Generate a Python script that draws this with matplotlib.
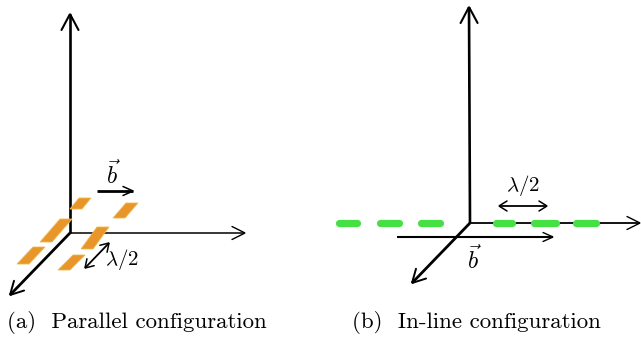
import matplotlib
matplotlib.use("Agg")
import numpy as np
import matplotlib.pyplot as plt
from matplotlib.patches import Polygon

plt.rcParams['mathtext.fontset'] = 'cm'

# coordinates in picture pixels (x to the right, y downward)
# (a) parallel configuration
a_origin = (70, 233)
a_axis_ends = [(70, 14), (245, 233), (10, 295)]
a_axis_lw = [1.9, 1.1, 2.0]
# orange dipoles: (top centre x, top y, bottom centre x, bottom y)
a_dipoles = [
    (85, 198, 76, 209), (66, 219, 46, 242), (39, 247, 23, 264),
    (132, 203, 119, 218), (103, 227, 87, 249), (79, 255, 64, 270),
]
a_b_arrow = [(97, 191), (133, 191)]
a_b_label = (113, 175)
a_lambda_arrow = [(85, 268), (109, 243)]
a_lambda_label = (122, 259)

# (b) in-line configuration
b_origin = (470, 223)
b_axis_ends = [(469, 7), (640, 223), (412, 283)]
b_axis_lw = [1.9, 1.3, 2.0]
# green dipoles along the x axis: (x start, x end)
b_dipoles = [(336, 360), (377, 402), (418, 443), (493, 515), (531, 559), (573, 599)]
b_b_arrow = [(397, 237), (553, 237)]
b_b_label = (474, 260)
b_lambda_arrow = [(499, 206), (547, 206)]
b_lambda_label = (523, 186)

captions = ["(a)  Parallel configuration", "(b)  In-line configuration"]
caption_x = [7, 352]

orange = "#E8952A"
green = "#44E044"

fig = plt.figure(figsize=(6.41, 3.37), dpi=100)
ax = fig.add_axes([0, 0, 1, 1])
ax.set_xlim(0, 641)
ax.set_ylim(337, 0)
ax.axis("off")


def head(tip, direction, hl, hw, lw):
    d = direction / np.hypot(*direction)
    n = np.array([-d[1], d[0]])
    tip = np.array(tip, float)
    base = tip - d * hl
    pts = np.array([base + n * hw, tip, base - n * hw])
    ax.plot(pts[:, 0], pts[:, 1], color="black", lw=lw, solid_capstyle="round",
            solid_joinstyle="miter", zorder=2)


def arrow(p0, p1, lw, hl=13, hw=7, hlw=1.1, both=False):
    p0 = np.array(p0, float)
    p1 = np.array(p1, float)
    ax.plot([p0[0], p1[0]], [p0[1], p1[1]], color="black", lw=lw, zorder=2,
            solid_capstyle="butt")
    head(p1, p1 - p0, hl, hw, hlw)
    if both:
        head(p0, p0 - p1, hl, hw, hlw)


# axes of both drawings
heads = [(16, 8.5, 1.5), (13, 6.5, 1.0), (13, 7, 1.4)]
for origin, ends, lws in [(a_origin, a_axis_ends, a_axis_lw), (b_origin, b_axis_ends, b_axis_lw)]:
    for end, lw, (hl, hw, hlw) in zip(ends, lws, heads):
        arrow(origin, end, lw, hl, hw, hlw)

# orange dipoles
half_w = 6
for xt, yt, xb, yb in a_dipoles:
    pts = [(xt - half_w, yt), (xt + half_w, yt), (xb + half_w, yb), (xb - half_w, yb)]
    ax.add_patch(Polygon(pts, closed=True, facecolor=orange, edgecolor="#F0B850",
                         lw=0.6, zorder=3))

# green dipoles
for x0, x1 in b_dipoles:
    ax.plot([x0 + 3, x1 - 3], [b_origin[1], b_origin[1]], color=green, lw=5.2,
            solid_capstyle="round", zorder=3)

# vectors b
arrow(a_b_arrow[0], a_b_arrow[1], 2.0, 10, 4.5, 1.1)
arrow(b_b_arrow[0], b_b_arrow[1], 1.5, 10, 4.5, 1.0)
ax.text(*a_b_label, r"$\vec{b}$", fontsize=17, ha="center", va="center")
ax.text(*b_b_label, r"$\vec{b}$", fontsize=17, ha="center", va="center")

# lambda/2 spacing
arrow(a_lambda_arrow[0], a_lambda_arrow[1], 1.3, 8, 5, 1.1, both=True)
arrow(b_lambda_arrow[0], b_lambda_arrow[1], 1.3, 8, 5, 1.1, both=True)
ax.text(*a_lambda_label, r"$\lambda/2$", fontsize=15, ha="center", va="center")
ax.text(*b_lambda_label, r"$\lambda/2$", fontsize=15, ha="center", va="center")

for cx, cap in zip(caption_x, captions):
    ax.text(cx, 322, cap, fontsize=16.5, family="cmr10", ha="left", va="center")

fig.savefig("out.png", dpi=100)
